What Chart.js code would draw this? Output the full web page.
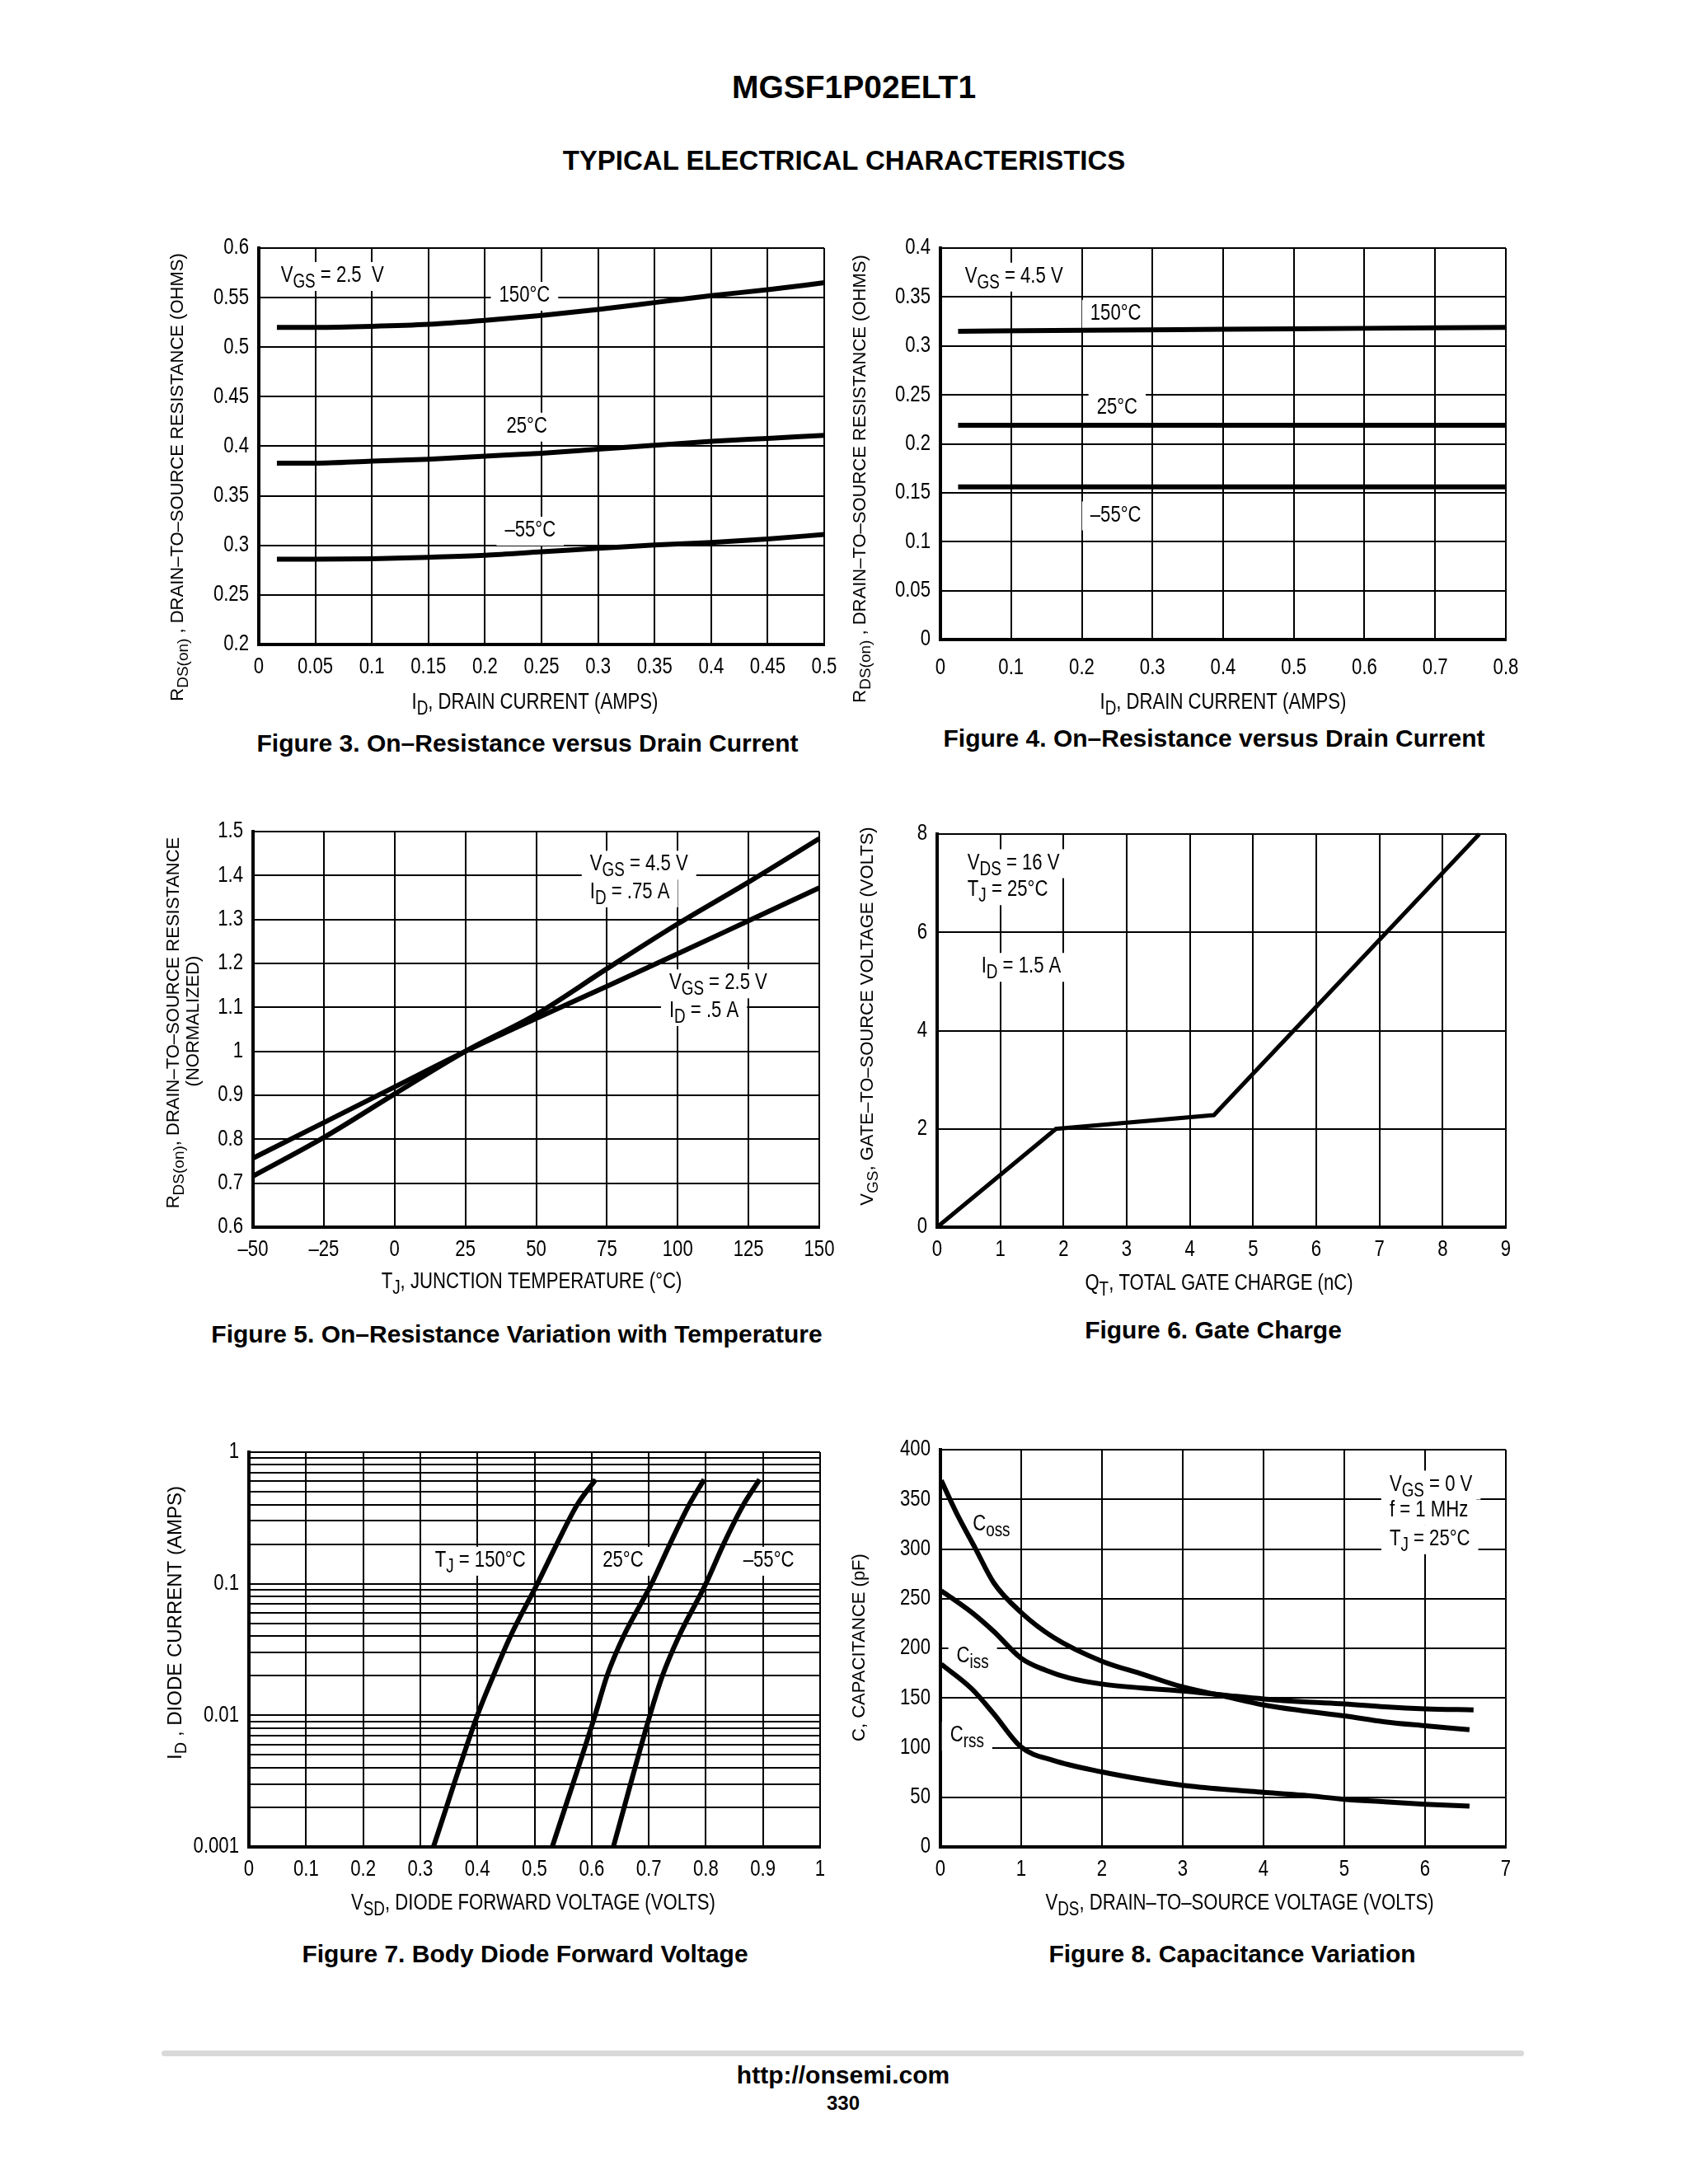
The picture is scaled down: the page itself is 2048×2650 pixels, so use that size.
<!DOCTYPE html>
<html>
<head>
<meta charset="utf-8">
<script src="https://cdn.jsdelivr.net/npm/chart.js@4.4.1/dist/chart.umd.min.js"></script>
<style>
  html, body { margin: 0; padding: 0; background: #fff; }
  body { width: 2048px; height: 2650px; position: relative; overflow: hidden; font-family: 'Liberation Sans', Arial, sans-serif; color: #000; }
  canvas { position: absolute; }
  .txt { position: absolute; transform: translate(-50%, -50%); white-space: nowrap; font-weight: bold; line-height: 1; }
  .rule { position: absolute; left: 196px; top: 2488px; width: 1653px; height: 7px; background: #d9d9d9; border-radius: 4px; }
</style>
</head>
<body>
<div class="txt" style="left:1036px;top:105px;font-size:39px">MGSF1P02ELT1</div>
<div class="txt" style="left:1024px;top:194px;font-size:33px">TYPICAL ELECTRICAL CHARACTERISTICS</div>

<div class="txt" style="left:640px;top:902px;font-size:30px">Figure 3. On–Resistance versus Drain Current</div>
<div class="txt" style="left:1473px;top:896px;font-size:30px">Figure 4. On–Resistance versus Drain Current</div>
<div class="txt" style="left:627px;top:1619px;font-size:30px">Figure 5. On–Resistance Variation with Temperature</div>
<div class="txt" style="left:1472px;top:1614px;font-size:30px">Figure 6. Gate Charge</div>
<div class="txt" style="left:637px;top:2371px;font-size:30px">Figure 7. Body Diode Forward Voltage</div>
<div class="txt" style="left:1495px;top:2371px;font-size:30px">Figure 8. Capacitance Variation</div>

<div class="rule"></div>
<div class="txt" style="left:1023px;top:2518px;font-size:30px">http://onsemi.com</div>
<div class="txt" style="left:1023px;top:2552px;font-size:24px">330</div>

<script>
// Figure 3: RDS(on) vs ID, VGS = 2.5 V
const fig3Current = [0.016, 0.05, 0.1, 0.15, 0.2, 0.25, 0.3, 0.35, 0.4, 0.45, 0.5]
const fig3R150 = [0.520, 0.520, 0.521, 0.523, 0.527, 0.532, 0.538, 0.545, 0.552, 0.558, 0.565]
const fig3R25 = [0.383, 0.383, 0.385, 0.387, 0.390, 0.393, 0.397, 0.401, 0.405, 0.408, 0.411]
const fig3Rm55 = [0.286, 0.286, 0.2865, 0.288, 0.290, 0.2935, 0.297, 0.3005, 0.303, 0.3065, 0.311]
const fig3XTicks = [0, 0.05, 0.1, 0.15, 0.2, 0.25, 0.3, 0.35, 0.4, 0.45, 0.5]
const fig3XLabels = ['0', '0.05', '0.1', '0.15', '0.2', '0.25', '0.3', '0.35', '0.4', '0.45', '0.5']
const fig3YTicks = [0.2, 0.25, 0.3, 0.35, 0.4, 0.45, 0.5, 0.55, 0.6]
const fig3YLabels = ['0.2', '0.25', '0.3', '0.35', '0.4', '0.45', '0.5', '0.55', '0.6']

// Figure 4: RDS(on) vs ID, VGS = 4.5 V
const fig4Current = [0.025, 0.2, 0.4, 0.6, 0.8]
const fig4R150 = [0.315, 0.316, 0.317, 0.318, 0.319]
const fig4R25 = [0.219, 0.219, 0.219, 0.219, 0.219]
const fig4Rm55 = [0.156, 0.156, 0.156, 0.156, 0.156]
const fig4XTicks = [0, 0.1, 0.2, 0.3, 0.4, 0.5, 0.6, 0.7, 0.8]
const fig4XLabels = ['0', '0.1', '0.2', '0.3', '0.4', '0.5', '0.6', '0.7', '0.8']
const fig4YTicks = [0, 0.05, 0.1, 0.15, 0.2, 0.25, 0.3, 0.35, 0.4]
const fig4YLabels = ['0', '0.05', '0.1', '0.15', '0.2', '0.25', '0.3', '0.35', '0.4']

// Figure 5: normalized RDS(on) vs TJ
const fig5Temp = [-50, -25, 0, 25, 50, 75, 100, 125, 150]
const fig5Vgs45 = [0.716, 0.804, 0.903, 1.0, 1.084, 1.188, 1.29, 1.385, 1.484]
const fig5Vgs25 = [0.757, 0.838, 0.919, 1.0, 1.075, 1.148, 1.222, 1.297, 1.372]
const fig5XTicks = [-50, -25, 0, 25, 50, 75, 100, 125, 150]
const fig5XLabels = ['–50', '–25', '0', '25', '50', '75', '100', '125', '150']
const fig5YTicks = [0.6, 0.7, 0.8, 0.9, 1.0, 1.1, 1.2, 1.3, 1.4, 1.5]
const fig5YLabels = ['0.6', '0.7', '0.8', '0.9', '1', '1.1', '1.2', '1.3', '1.4', '1.5']

// Figure 6: gate charge
const fig6Charge = [0, 1.88, 4.38, 8.58]
const fig6Vgs = [0, 2.0, 2.28, 8.0]
const fig6XTicks = [0, 1, 2, 3, 4, 5, 6, 7, 8, 9]
const fig6XLabels = ['0', '1', '2', '3', '4', '5', '6', '7', '8', '9']
const fig6YTicks = [0, 2, 4, 6, 8]
const fig6YLabels = ['0', '2', '4', '6', '8']

// Figure 7: body diode forward voltage
const fig7Current = [0.001, 0.01, 0.02, 0.04, 0.1, 0.2, 0.4, 0.62]
const fig7V150 = [0.323, 0.400, 0.428, 0.458, 0.505, 0.539, 0.575, 0.607]
const fig7V25 = [0.531, 0.606, 0.627, 0.656, 0.705, 0.737, 0.771, 0.797]
const fig7Vm55 = [0.638, 0.702, 0.724, 0.753, 0.800, 0.831, 0.866, 0.894]
const fig7XTicks = [0, 0.1, 0.2, 0.3, 0.4, 0.5, 0.6, 0.7, 0.8, 0.9, 1]
const fig7XLabels = ['0', '0.1', '0.2', '0.3', '0.4', '0.5', '0.6', '0.7', '0.8', '0.9', '1']
const fig7YTicks = [
  0.001, 0.002, 0.003, 0.004, 0.005, 0.006, 0.007, 0.008, 0.009,
  0.01, 0.02, 0.03, 0.04, 0.05, 0.06, 0.07, 0.08, 0.09,
  0.1, 0.2, 0.3, 0.4, 0.5, 0.6, 0.7, 0.8, 0.9, 1,
]
const fig7YLabels = [
  '0.001', '', '', '', '', '', '', '', '',
  '0.01', '', '', '', '', '', '', '', '',
  '0.1', '', '', '', '', '', '', '', '', '1',
]

// Figure 8: capacitance
const fig8VdsOss = [0.01, 0.2, 0.43, 0.66, 1, 1.4, 2, 2.5, 3, 3.5, 4, 4.5, 5, 5.5, 6, 6.55]
const fig8Coss = [369, 336, 301, 266, 236, 211, 187, 174, 161, 152, 143, 137, 132, 126, 122, 118]
const fig8VdsIss = [0.01, 0.39, 0.66, 1, 1.3, 1.6, 2, 2.5, 3, 3.5, 4, 4.5, 5, 5.5, 6, 6.6]
const fig8Ciss = [258, 236, 217, 190, 178, 170, 164, 160, 157, 153, 149, 146, 144, 141, 139, 138]
const fig8VdsRss = [0.01, 0.39, 0.66, 1, 1.4, 2, 2.5, 3, 3.5, 4, 4.5, 5, 5.5, 6, 6.55]
const fig8Crss = [184, 159, 134, 100.5, 87, 75.5, 68, 62, 58, 55, 52, 48, 45.5, 43, 41]
const fig8XTicks = [0, 1, 2, 3, 4, 5, 6, 7]
const fig8XLabels = ['0', '1', '2', '3', '4', '5', '6', '7']
const fig8YTicks = [0, 50, 100, 150, 200, 250, 300, 350, 400]
const fig8YLabels = ['0', '50', '100', '150', '200', '250', '300', '350', '400']

// no condensed Helvetica here, so Liberation Sans squeezed sideways stands in for it
const FONT = "'Liberation Sans', Arial, sans-serif"
const NARROW = 0.82
const AXIS_W = 200
const AXIS_H = 110
const PAD_T = 30
const PAD_R = 50

Chart.defaults.font.family = FONT
Chart.defaults.color = '#000'

function pairs(xs, ys) {
  return xs.map((x, i) => ({ x, y: ys[i] }))
}

// "V_{GS} = 2.5 V" -> [{t:'V'},{t:'GS',sub:true},{t:' = 2.5 V'}]
function richParts(text) {
  const parts = []
  const re = /_\{([^}]*)\}/g
  let last = 0
  let m
  while ((m = re.exec(text))) {
    if (m.index > last) parts.push({ t: text.slice(last, m.index), sub: false })
    parts.push({ t: m[1], sub: true })
    last = re.lastIndex
  }
  if (last < text.length) parts.push({ t: text.slice(last), sub: false })
  return parts
}

function drawRich(ctx, text, x, y, size, squeeze, align, pad) {
  const parts = richParts(text)
  const subSize = Math.round(size * 0.85)
  let width = 0
  parts.forEach((p) => {
    ctx.font = `${p.sub ? subSize : size}px ${FONT}`
    p.w = ctx.measureText(p.t).width * squeeze
    width += p.w
  })
  let cx = x - width / 2
  if (align === 'left') cx = x
  if (align === 'right') cx = x - width
  if (pad) {
    ctx.fillStyle = '#fff'
    ctx.fillRect(cx - pad, y - size * 0.62, width + pad * 2, size * 1.3)
  }
  ctx.fillStyle = '#000'
  ctx.textAlign = 'left'
  ctx.textBaseline = 'middle'
  parts.forEach((p) => {
    ctx.save()
    ctx.font = `${p.sub ? subSize : size}px ${FONT}`
    ctx.translate(cx, p.sub ? y + size * 0.3 : y)
    ctx.scale(squeeze, 1)
    ctx.fillText(p.t, 0, 0)
    ctx.restore()
    cx += p.w
  })
}

function annotate(spec, origin) {
  return {
    id: 'annotate',
    beforeDatasetsDraw(chart) {
      const { ctx, scales } = chart
      ctx.save()
      spec.notes.forEach((n) => {
        const x = scales.x.getPixelForValue(n.x)
        const y = scales.y.getPixelForValue(n.y)
        drawRich(ctx, n.text, x, y, 27, NARROW, n.align || 'center', 10)
      })
      ctx.restore()
    },
    afterDraw(chart) {
      const { ctx, chartArea } = chart
      const xs = chart.scales.x
      const ys = chart.scales.y
      const gap = spec.tickGap || 28
      ctx.save()
      xs.ticks.forEach((t) => {
        if (t.text) drawRich(ctx, t.text, xs.getPixelForValue(t.value), chartArea.bottom + gap, 27, NARROW, 'center', 0)
      })
      ys.ticks.forEach((t) => {
        if (t.text) drawRich(ctx, t.text, chartArea.left - 12, ys.getPixelForValue(t.value), 27, NARROW, 'right', 0)
      })
      spec.yTitle.forEach((t) => {
        ctx.save()
        ctx.translate(t.x - origin.x, t.y - origin.y)
        ctx.rotate(-Math.PI / 2)
        drawRich(ctx, t.text, 0, 0, t.size || 22, 1, 'center', 0)
        ctx.restore()
      })
      drawRich(ctx, spec.xTitle.text, spec.xTitle.x - origin.x, spec.xTitle.y - origin.y, 27, NARROW, 'center', 0)
      ctx.restore()
    },
  }
}

function axis(a, dir) {
  return {
    type: a.log ? 'logarithmic' : 'linear',
    min: a.min,
    max: a.max,
    afterBuildTicks: (scale) => {
      scale.ticks = a.values.map((v, i) => ({ value: v, text: a.labels[i] }))
    },
    afterFit: (scale) => {
      if (dir === 'x') scale.height = AXIS_H
      else scale.width = AXIS_W
    },
    ticks: { display: false, autoSkip: false },
    grid: { color: '#000', lineWidth: 2, drawTicks: false },
    border: { color: '#000', width: 4 },
  }
}

function makeChart(spec) {
  const { plot } = spec
  const origin = { x: plot.left - AXIS_W, y: plot.top - PAD_T }
  const canvas = document.createElement('canvas')
  canvas.width = plot.right - plot.left + AXIS_W + PAD_R
  canvas.height = plot.bottom - plot.top + PAD_T + AXIS_H
  canvas.style.left = `${origin.x}px`
  canvas.style.top = `${origin.y}px`
  document.body.appendChild(canvas)

  return new Chart(canvas, {
    type: 'scatter',
    data: {
      datasets: spec.series.map((s) => ({
        data: s,
        borderColor: '#000',
        borderWidth: spec.lineWidth || 6,
        pointRadius: 0,
        showLine: true,
        cubicInterpolationMode: spec.smooth ? 'monotone' : 'default',
        tension: 0,
        clip: 10,
      })),
    },
    options: {
      responsive: false,
      animation: false,
      events: [],
      layout: { padding: { left: 0, top: PAD_T, right: PAD_R, bottom: 0 } },
      scales: { x: axis(spec.x, 'x'), y: axis(spec.y, 'y') },
      plugins: { legend: { display: false }, tooltip: { enabled: false } },
    },
    plugins: [annotate(spec, origin)],
  })
}

makeChart({
  plot: { left: 314, top: 301, right: 1000, bottom: 782 },
  x: { min: 0, max: 0.5, values: fig3XTicks, labels: fig3XLabels },
  y: { min: 0.2, max: 0.6, values: fig3YTicks, labels: fig3YLabels },
  series: [pairs(fig3Current, fig3R150), pairs(fig3Current, fig3R25), pairs(fig3Current, fig3Rm55)],
  smooth: true,
  notes: [
    { x: 0.065, y: 0.572, text: 'V_{GS} = 2.5  V' },
    { x: 0.235, y: 0.552, text: '150°C' },
    { x: 0.237, y: 0.42, text: '25°C' },
    { x: 0.24, y: 0.315, text: '–55°C' },
  ],
  yTitle: [{ x: 216, y: 579, text: 'R_{DS(on)} , DRAIN–TO–SOURCE RESISTANCE (OHMS)' }],
  xTitle: { x: 649, y: 853, text: 'I_{D}, DRAIN CURRENT (AMPS)' },
})

makeChart({
  plot: { left: 1141, top: 301, right: 1827, bottom: 776 },
  x: { min: 0, max: 0.8, values: fig4XTicks, labels: fig4XLabels },
  y: { min: 0, max: 0.4, values: fig4YTicks, labels: fig4YLabels },
  series: [pairs(fig4Current, fig4R150), pairs(fig4Current, fig4R25), pairs(fig4Current, fig4Rm55)],
  smooth: true,
  tickGap: 35,
  notes: [
    { x: 0.104, y: 0.371, text: 'V_{GS} = 4.5 V' },
    { x: 0.248, y: 0.333, text: '150°C' },
    { x: 0.25, y: 0.237, text: '25°C' },
    { x: 0.248, y: 0.127, text: '–55°C' },
  ],
  yTitle: [{ x: 1044, y: 581, text: 'R_{DS(on)} , DRAIN–TO–SOURCE RESISTANCE (OHMS)' }],
  xTitle: { x: 1484, y: 853, text: 'I_{D}, DRAIN CURRENT (AMPS)' },
})

makeChart({
  plot: { left: 307, top: 1009, right: 994, bottom: 1489 },
  x: { min: -50, max: 150, values: fig5XTicks, labels: fig5XLabels },
  y: { min: 0.6, max: 1.5, values: fig5YTicks, labels: fig5YLabels },
  series: [pairs(fig5Temp, fig5Vgs45), pairs(fig5Temp, fig5Vgs25)],
  smooth: true,
  notes: [
    { x: 69, y: 1.425, text: 'V_{GS} = 4.5 V', align: 'left' },
    { x: 69, y: 1.362, text: 'I_{D} = .75 A', align: 'left' },
    { x: 97, y: 1.155, text: 'V_{GS} = 2.5 V', align: 'left' },
    { x: 97, y: 1.092, text: 'I_{D} = .5 A', align: 'left' },
  ],
  yTitle: [
    { x: 211, y: 1241, text: 'R_{DS(on)}, DRAIN–TO–SOURCE RESISTANCE' },
    { x: 235, y: 1239, text: '(NORMALIZED)' },
  ],
  xTitle: { x: 645, y: 1556, text: 'T_{J}, JUNCTION TEMPERATURE (°C)' },
})

makeChart({
  plot: { left: 1137, top: 1012, right: 1827, bottom: 1489 },
  x: { min: 0, max: 9, values: fig6XTicks, labels: fig6XLabels },
  y: { min: 0, max: 8, values: fig6YTicks, labels: fig6YLabels },
  series: [pairs(fig6Charge, fig6Vgs)],
  smooth: false,
  lineWidth: 5,
  notes: [
    { x: 0.48, y: 7.41, text: 'V_{DS} = 16 V', align: 'left' },
    { x: 0.48, y: 6.86, text: 'T_{J} = 25°C', align: 'left' },
    { x: 0.7, y: 5.3, text: 'I_{D} = 1.5 A', align: 'left' },
  ],
  yTitle: [{ x: 1053, y: 1233, text: 'V_{GS}, GATE–TO–SOURCE VOLTAGE (VOLTS)' }],
  xTitle: { x: 1479, y: 1558, text: 'Q_{T}, TOTAL GATE CHARGE (nC)' },
})

makeChart({
  plot: { left: 302, top: 1762, right: 995, bottom: 2241 },
  x: { min: 0, max: 1, values: fig7XTicks, labels: fig7XLabels },
  y: { log: true, min: 0.001, max: 1, values: fig7YTicks, labels: fig7YLabels },
  series: [pairs(fig7V150, fig7Current), pairs(fig7V25, fig7Current), pairs(fig7Vm55, fig7Current)],
  smooth: true,
  notes: [
    { x: 0.405, y: 0.15, text: 'T_{J} = 150°C' },
    { x: 0.655, y: 0.15, text: '25°C' },
    { x: 0.91, y: 0.15, text: '–55°C' },
  ],
  yTitle: [{ x: 213, y: 1969, text: 'I_{D} , DIODE CURRENT (AMPS)', size: 24 }],
  xTitle: { x: 647, y: 2310, text: 'V_{SD}, DIODE FORWARD VOLTAGE (VOLTS)' },
})

makeChart({
  plot: { left: 1141, top: 1759, right: 1827, bottom: 2241 },
  x: { min: 0, max: 7, values: fig8XTicks, labels: fig8XLabels },
  y: { min: 0, max: 400, values: fig8YTicks, labels: fig8YLabels },
  series: [pairs(fig8VdsOss, fig8Coss), pairs(fig8VdsIss, fig8Ciss), pairs(fig8VdsRss, fig8Crss)],
  smooth: true,
  notes: [
    { x: 0.4, y: 325, text: 'C_{oss}', align: 'left' },
    { x: 0.2, y: 192, text: 'C_{iss}', align: 'left' },
    { x: 0.12, y: 112, text: 'C_{rss}', align: 'left' },
    { x: 5.56, y: 365, text: 'V_{GS} = 0 V', align: 'left' },
    { x: 5.56, y: 339, text: 'f = 1 MHz', align: 'left' },
    { x: 5.56, y: 310, text: 'T_{J} = 25°C', align: 'left' },
  ],
  yTitle: [{ x: 1043, y: 1999, text: 'C, CAPACITANCE (pF)' }],
  xTitle: { x: 1504, y: 2310, text: 'V_{DS}, DRAIN–TO–SOURCE VOLTAGE (VOLTS)' },
})
</script>
</body>
</html>
